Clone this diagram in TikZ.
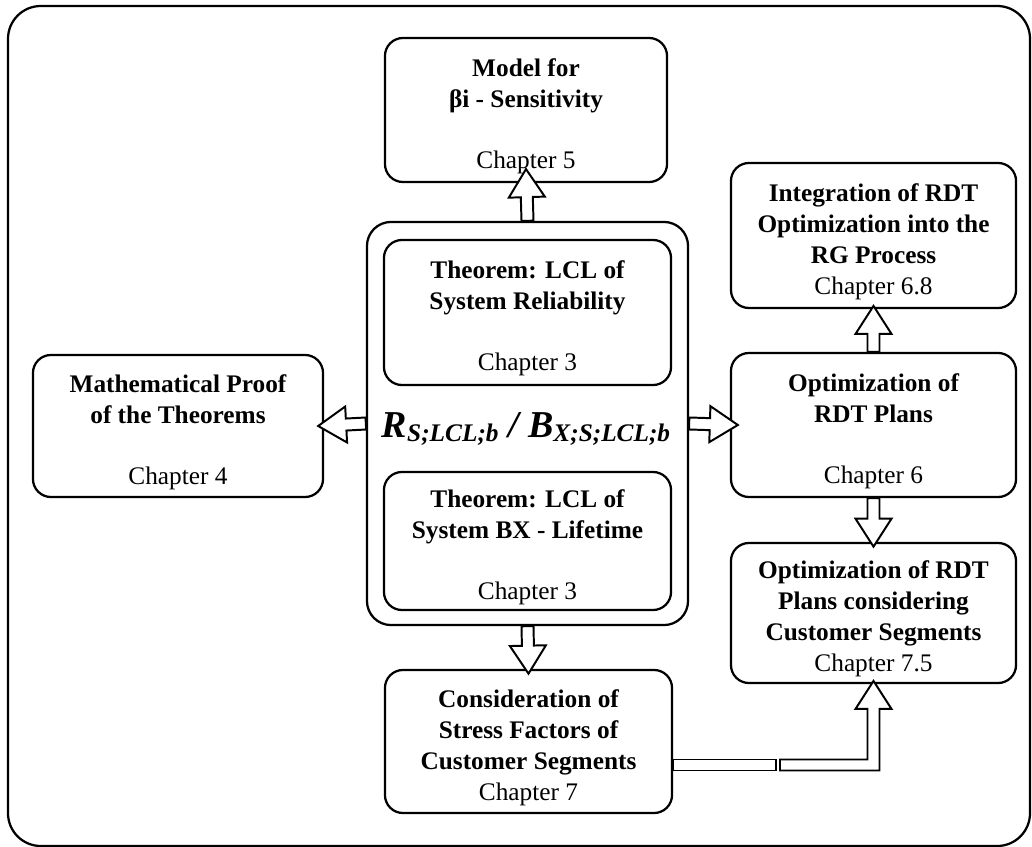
\documentclass[tikz,border=0pt]{standalone}
\usepackage{fontspec}
\setmainfont{Liberation Serif}
\usetikzlibrary{calc}
\newcommand\chap[1]{\mdseries Chapter #1}
\newcommand\lclsub[1]{\lower3.5pt\hbox{\fontsize{18}{20}\selectfont#1}}
\newcommand\hdstrut{\rule{0pt}{0.74cm}}

\begin{document}
\begin{tikzpicture}[x=0.025cm, y=-0.025cm]
\tikzset{chapbox/.style={draw, line width=1.6pt, rounded corners=0.45cm, align=center, inner sep=0pt,
    font=\fontsize{18}{22}\selectfont\bfseries},
  hollow/.style={draw, fill=white, line width=1.4pt, line join=miter},
  blockarrow/.style={hollow, to path={
    ($(\tikztostart)!0.15cm!-90:(\tikztotarget)$)
    -- ($(\tikztotarget)!0.7cm!(\tikztostart)!0.15cm!-90:(\tikztotarget)$)
    -- ($(\tikztotarget)!0.7cm!(\tikztostart)!0.45cm!-90:(\tikztotarget)$)
    -- (\tikztotarget)
    -- ($(\tikztotarget)!0.7cm!(\tikztostart)!0.45cm!90:(\tikztotarget)$)
    -- ($(\tikztotarget)!0.7cm!(\tikztostart)!0.15cm!90:(\tikztotarget)$)
    -- ($(\tikztostart)!0.15cm!90:(\tikztotarget)$) -- cycle}}}
\useasboundingbox (0,0) rectangle (1032,847);
\draw[line width=1.6pt, rounded corners=0.82cm] (8,6) rectangle (1030,846);
% centre part
\node[draw, line width=1.6pt, rounded corners=0.6cm, minimum width=8.025cm, minimum height=10.075cm] (core) at (527.5,423.5) {};
\node[chapbox, minimum width=7.175cm, minimum height=3.625cm] (theoA) at (527.5,312.5) {\hdstrut Theorem: LCL of\\System Reliability\\[0.75cm]\chap{3}};
\node[chapbox, minimum width=7.175cm, minimum height=3.45cm] (theoB) at (527.5,541) {\hdstrut Theorem: LCL of\\System BX - Lifetime\\[0.75cm]\chap{3}};
\node[anchor=base, font=\fontsize{27}{30}\selectfont\bfseries\itshape] (formula) at (526,437) {R\lclsub{S;LCL;b} / B\lclsub{X;S;LCL;b}};
% boxes around
\node[chapbox, minimum width=7.05cm, minimum height=3.6cm] (model) at (526,110) {\hdstrut Model for\\βi - Sensitivity\\[0.75cm]\chap{5}};
\node[chapbox, minimum width=7.25cm, minimum height=3.55cm] (proof) at (178,426) {\hdstrut Mathematical Proof\\of the Theorems\\[0.75cm]\chap{4}};
\node[chapbox, minimum width=7.125cm, minimum height=3.625cm] (integ) at (873.5,235.5) {\hdstrut Integration of RDT\\Optimization into the\\RG Process\\\chap{6.8}};
\node[chapbox, minimum width=7.125cm, minimum height=3.6cm] (optplan) at (873.5,425) {\hdstrut Optimization of\\RDT Plans\\[0.75cm]\chap{6}};
\node[chapbox, minimum width=7.125cm, minimum height=3.5cm] (optcust) at (873.5,613) {\hdstrut Optimization of RDT\\Plans considering\\Customer Segments\\\chap{7.5}};
\node[chapbox, minimum width=7.175cm, minimum height=3.575cm] (cons) at (528.5,741.5) {\hdstrut Consideration of\\Stress Factors of\\Customer Segments\\\chap{7}};
% block arrows
\draw[blockarrow] (core.north) to ([yshift=0.35cm]model.south);
\draw[blockarrow] (core.west) to ([xshift=-0.15cm]proof.east);
\draw[blockarrow] (core.east) to ([xshift=0.2cm]optplan.west);
\draw[blockarrow] (core.south) to ([yshift=-0.12cm]cons.north);
\draw[blockarrow] (optplan.north) to ([yshift=0.08cm]integ.south);
\draw[blockarrow] (optplan.south) to ([yshift=-0.12cm]optcust.north);
% broken elbow arrow
\coordinate (gapL) at (776,765);
\coordinate (gapR) at (780,765);
\coordinate (elbow) at (optcust.south |- gapR);
\coordinate (tip) at ([yshift=0.08cm]optcust.south);
\draw[hollow] ($(cons.east |- gapL)+(0,-5.5)$) rectangle ($(gapL)+(0,5.5)$);
\draw[hollow] ($(gapR)+(0,-5.5)$) -- ($(elbow)+(-6,-5.5)$) -- ($(tip)+(-6,28)$) -- ($(tip)+(-18,28)$)
  -- (tip) -- ($(tip)+(18,28)$) -- ($(tip)+(6,28)$) -- ($(elbow)+(6,5.5)$) -- ($(gapR)+(0,5.5)$) -- cycle;
\end{tikzpicture}
\end{document}
